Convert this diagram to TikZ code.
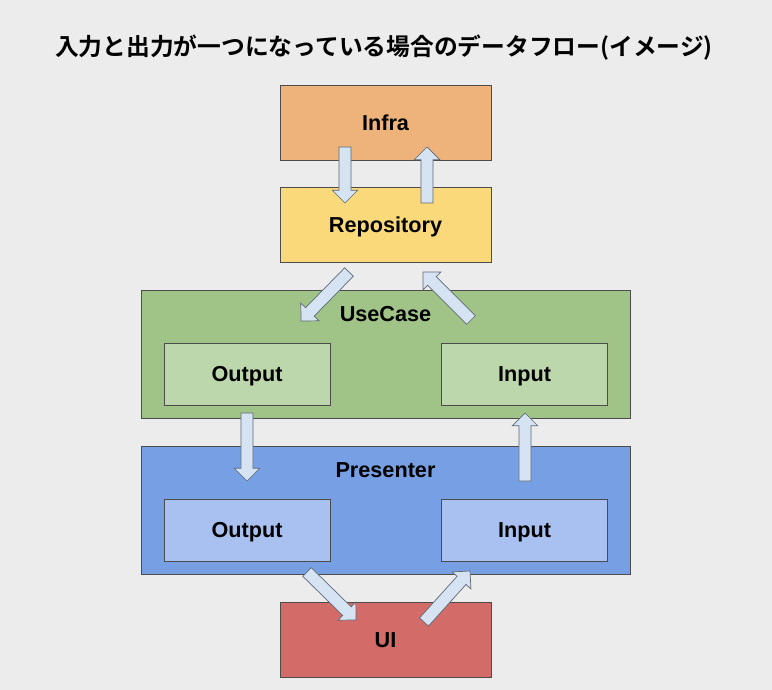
\documentclass[tikz,border=0pt]{standalone}
\usepackage{fontspec}
\newfontfamily\etiqueta{Liberation Sans}
\newfontfamily\titulo{Noto Sans CJK JP}[BoldFont={Noto Sans CJK JP Bold}]
\usepackage{tikz}
\usetikzlibrary{calc,positioning}
\definecolor{fondo}{RGB}{236,236,236}
\definecolor{naranja}{RGB}{238,179,123}
\definecolor{amarillo}{RGB}{250,217,122}
\definecolor{verde}{RGB}{160,196,135}
\definecolor{verdeClaro}{RGB}{189,215,172}
\definecolor{azul}{RGB}{119,159,227}
\definecolor{azulClaro}{RGB}{169,193,241}
\definecolor{rojo}{RGB}{211,107,105}
\definecolor{flecha}{RGB}{213,227,242}
\definecolor{grisFlecha}{RGB}{95,105,117}
\tikzstyle{layer} =[rectangle, draw=black!70, line width=0.6pt,
                    inner sep=0pt, outer sep=0pt,
                    text height=11pt, text depth=0pt,
                    font=\etiqueta\bfseries\fontsize{15.4}{18}\selectfont]
\tikzstyle{small} =[layer, minimum width=5.275cm, minimum height=1.875cm]
\tikzstyle{large} =[layer, minimum width=12.225cm, minimum height=3.2cm]
\tikzstyle{port}  =[layer, minimum width=4.15cm, minimum height=1.55cm]
\tikzstyle{tag}   =[inner sep=0pt, text height=11pt, text depth=0pt,
                    font=\etiqueta\bfseries\fontsize{15.4}{18}\selectfont]
\tikzstyle{flow}  =[fill=flecha, draw=grisFlecha, line width=0.5pt,
                    line join=miter]
% block arrow from #1 to #2
\newcommand{\flowarrow}[2]{%
  \coordinate (ah) at ($(#2)!9pt!(#1)$);
  \draw[flow] ($(#1)!4.3pt!90:(#2)$) -- ($(ah)!4.3pt!90:(#2)$)
    -- ($(ah)!9pt!90:(#2)$) -- (#2) -- ($(ah)!9pt!-90:(#2)$)
    -- ($(ah)!4.3pt!-90:(#2)$) -- ($(#1)!4.3pt!-90:(#2)$) -- cycle;}

\begin{document}
\begin{tikzpicture}[x=0.025cm, y=-0.025cm]

    \fill[fondo] (0,0) rectangle (772,690);
    \useasboundingbox (0,0) rectangle (772,690);

    \draw (384,48) node (title) [inner sep=0pt, font=\titulo\bfseries\fontsize{16.9}{20}\selectfont]
        {入力と出力が一つになっている場合のデータフロー(イメージ)};

    \draw (385.5,122.5) node (infra) [small, fill=naranja] {Infra};
    \draw (385.5,225) node (repo) [small, fill=amarillo] {Repository};

    \draw (385.5,354) node (usecase) [large, fill=verde] {};
    \draw (385.5,314) node (usecaseTag) [tag] {UseCase};
    \draw (247,374) node (ucOut) [port, fill=verdeClaro] {Output};
    \draw (524.5,374) node (ucIn) [port, fill=verdeClaro] {Input};

    \draw (385.5,510) node (presenter) [large, fill=azul] {};
    \draw (385.5,470) node (presenterTag) [tag] {Presenter};
    \draw (247,530) node (prOut) [port, fill=azulClaro] {Output};
    \draw (524.5,530) node (prIn) [port, fill=azulClaro] {Input};

    \draw (385.5,639.5) node (ui) [small, fill=rojo] {UI};

    % arrow ends
    \foreach \i/\x/\y in {1/345/147, 2/427/203, 3/349/272, 4/471/320,
                          5/247/413, 6/525/481, 7/307/572, 8/424/622}
        \coordinate (s\i) at (\x,\y);
    \foreach \i/\x/\y in {1/345/203, 2/427/147, 3/301/321, 4/423/272,
                          5/247/481, 6/525/413, 7/356/620, 8/470/571}
        \coordinate (t\i) at (\x,\y);

    \foreach \i in {1,...,8}
        {\flowarrow{s\i}{t\i}}

\end{tikzpicture}
\end{document}
